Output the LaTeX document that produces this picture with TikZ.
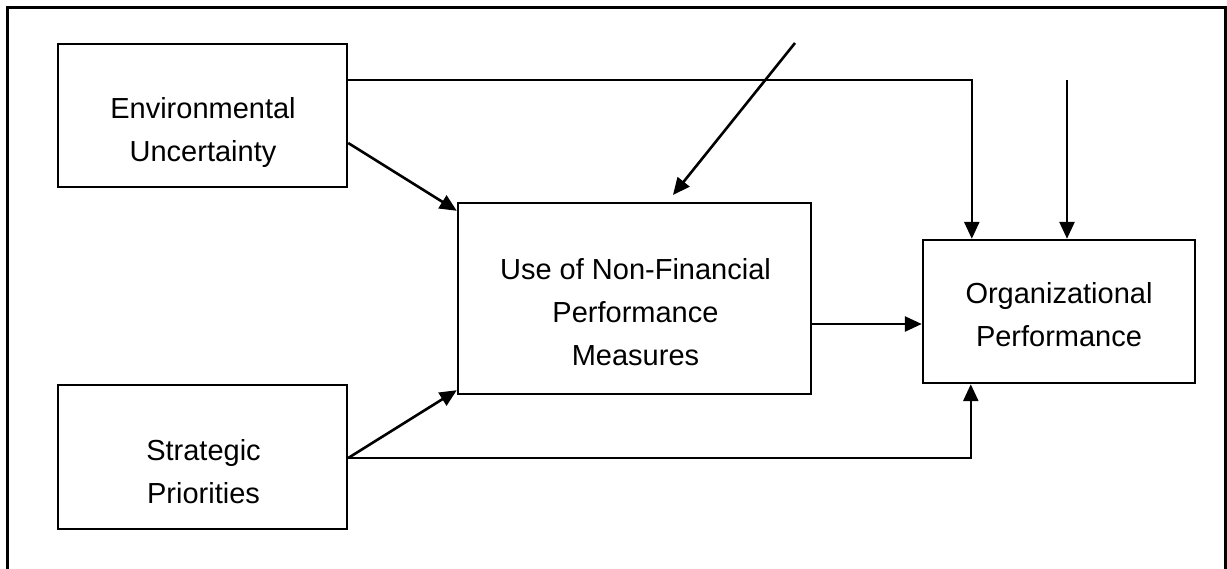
\documentclass[tikz,border=0pt]{standalone}
\usepackage{fontspec}
\setmainfont{Liberation Sans}
\usetikzlibrary{arrows.meta}
\begin{document}
\begin{tikzpicture}[x=1pt,y=-1pt,
  box/.style={draw,line width=2.4pt,inner sep=0pt,rectangle},
  label/.style={font=\fontsize{29}{43}\selectfont,align=center,inner sep=0pt,anchor=base},
  arr/.style={line width=2.6pt,-{Triangle[length=17pt,width=15pt]}},
  plain/.style={line width=2.4pt}]
\useasboundingbox (0,0) rectangle (1227,568);
\clip (0,0) rectangle (1227,568);
% outer frame
\draw[line width=3.2pt] (7.5,7.5) rectangle (1225.5,580);

% boxes
\node[box,minimum width=289pt,minimum height=143pt] (env) at (202.5,115.5) {};
\node[box,minimum width=289pt,minimum height=144pt] (strat) at (202.5,457) {};
\node[box,minimum width=353pt,minimum height=191pt] (mid) at (634.5,298.5) {};
\node[box,minimum width=272pt,minimum height=143pt] (org) at (1059,311.5) {};

% texts (anchored on the baseline of the last line)
\node[label] (envtxt) at (203,161) {Environmental\\Uncertainty};
\node[label] (strattxt) at (203.5,503) {Strategic\\Priorities};
\node[label] (midtxt) at (635.5,365) {Use of Non-Financial\\Performance\\Measures};
\node[label] (orgtxt) at (1059,346) {Organizational\\Performance};

% free ends
\coordinate (topA) at (1067,80);
\coordinate (diagS) at (795,43);
\coordinate (diagE) at (673,195);

% connectors
\draw[arr] ([yshift=-27.5pt]env.east) -- ([yshift=-9pt]mid.north west);
\draw[arr] ([yshift=-1pt]strat.east) -- ([yshift=5pt]mid.south west);
\draw[arr] ([yshift=35.5pt]env.east) -| ([xshift=50pt]org.north west);
\draw[arr] (topA) -- (topA |- org.north);
\draw[arr] (diagS) -- (diagE);
\draw[arr] ([yshift=-25.5pt]mid.east) -- ([yshift=-12.5pt]org.west);
\draw[arr] ([yshift=-1pt]strat.east) -| ([xshift=49pt]org.south west);
\end{tikzpicture}
\end{document}
